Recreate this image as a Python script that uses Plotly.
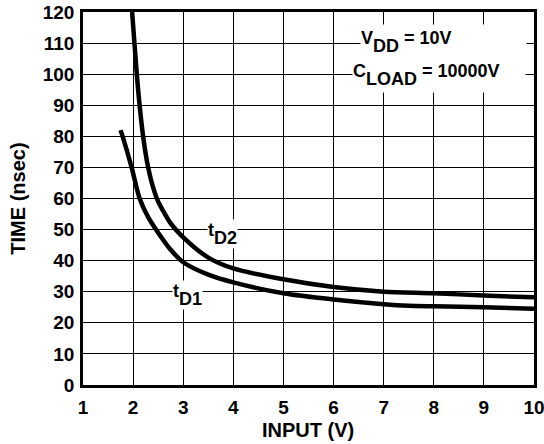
import plotly.graph_objects as go

x_td2 = [1.98, 2.05, 2.1, 2.2, 2.3, 2.4, 2.5, 2.6, 2.75, 3, 3.5, 4, 5, 6, 7, 8, 9, 10]
y_td2 = [120, 105, 95, 80, 70, 63.5, 59, 56, 52, 47.5, 41, 37.5, 34, 31.5, 30, 29.5, 28.8, 28.2]
x_td1 = [1.75, 1.8, 1.97, 2.13, 2.3, 2.5, 2.75, 3, 3.5, 4, 5, 6, 7, 7.5, 8, 9, 10]
y_td1 = [82, 79.5, 70, 60, 54, 49, 43.5, 39.5, 35.5, 33, 29.5, 27.5, 26, 25.5, 25.3, 25, 24.5]
x_ticks = [1, 2, 3, 4, 5, 6, 7, 8, 9, 10]
y_ticks = [0, 10, 20, 30, 40, 50, 60, 70, 80, 90, 100, 110, 120]

fnt = "Liberation Sans, Arial, sans-serif"
tick_font = dict(family=fnt, size=19, color="black", weight="bold")

fig = go.Figure()
for xs, ys in ((x_td2, y_td2), (x_td1, y_td1)):
    fig.add_trace(go.Scatter(x=xs, y=ys, mode="lines",
                             line=dict(color="black", width=4.5, shape="spline", smoothing=0.8),
                             showlegend=False, hoverinfo="skip"))

def lbl(main, sub, rest=""):
    s = "<span style='font-size:18px'>"
    out = f"{s}{main}</span><sub>{s}{sub}</span></sub>"
    if rest:
        out += f"{s}{rest}</span>"
    return out

ann = dict(showarrow=False, bgcolor="white", borderpad=0,
           font=dict(family=fnt, size=34, color="black", weight="bold"))
fig.add_annotation(x=3.79, y=48.5, text=lbl("t", "D2"), height=28, **ann)
fig.add_annotation(x=3.09, y=29, text=lbl("t", "D1"), height=28, **ann)
fig.add_annotation(x=6.52, y=110.5, text=lbl("V", "DD", " = 10V"), xanchor="left", align="left",
                   width=165, height=34, **ann)
fig.add_annotation(x=6.36, y=99.7, text=lbl("C", "LOAD", " = 10000V"), xanchor="left", align="left",
                   width=172, height=34, **ann)

title_font = dict(family=fnt, size=20, color="black", weight="bold")
fig.add_annotation(xref="paper", yref="paper", x=0.499, y=-0.121, text="INPUT (V)",
                   showarrow=False, xanchor="center", yanchor="middle", font=title_font)
fig.add_annotation(xref="paper", yref="paper", x=-0.146, y=0.5, text="TIME (nsec)", textangle=-90,
                   showarrow=False, xanchor="center", yanchor="middle", font=title_font)

fig.update_xaxes(range=[1, 10], tickvals=x_ticks, showgrid=True, gridcolor="black", gridwidth=1,
                 showline=True, linecolor="black", linewidth=2.5, mirror=True, zeroline=False,
                 ticks="outside", ticklen=3, tickcolor="rgba(0,0,0,0)", tickfont=tick_font,
                 ticklabeloverflow="allow", automargin=False)
fig.update_yaxes(range=[0, 120], tickvals=y_ticks, showgrid=True, gridcolor="black", gridwidth=1,
                 showline=True, linecolor="black", linewidth=2.5, mirror=True, zeroline=False,
                 ticks="outside", ticklen=2, tickcolor="rgba(0,0,0,0)", tickfont=tick_font,
                 ticklabeloverflow="allow", automargin=False)
fig.update_layout(width=544, height=444, margin=dict(l=83, r=10, t=12, b=59),
                  paper_bgcolor="white", plot_bgcolor="white")
fig.write_html("out.html", config={"displayModeBar": False},
               post_script="document.body.style.margin='0';")
